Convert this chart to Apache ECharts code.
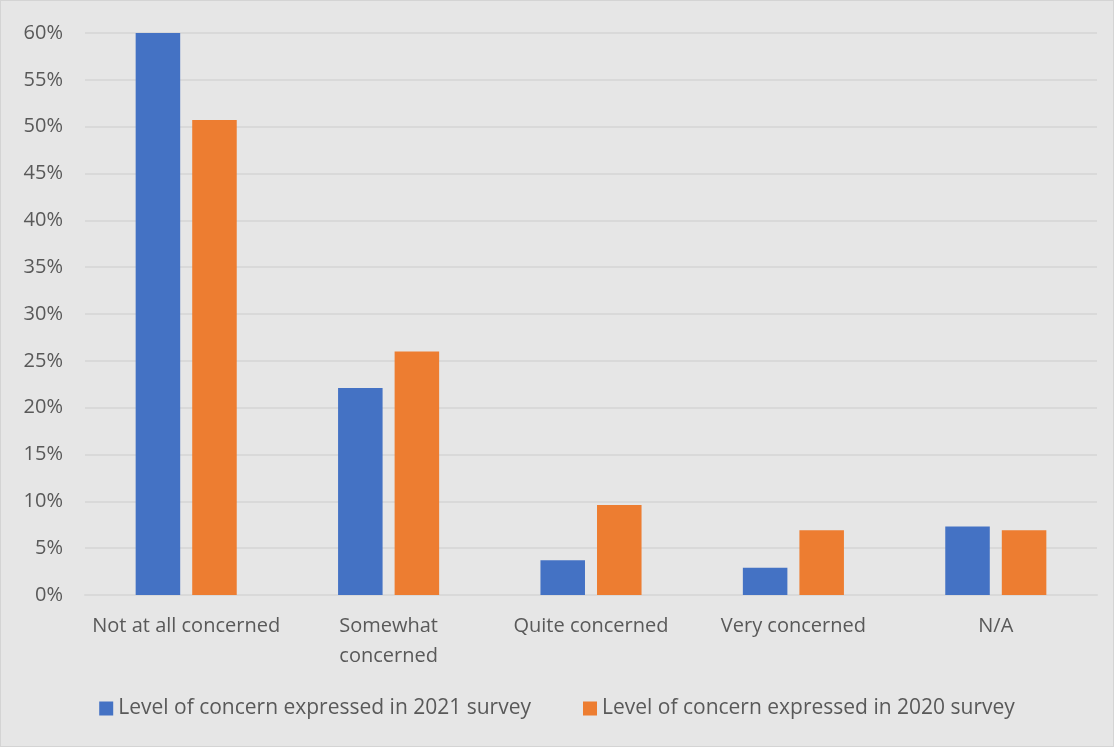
<!DOCTYPE html>
<html>
<head>
<meta charset="utf-8">
<script src="https://cdn.jsdelivr.net/npm/echarts@6/dist/echarts.min.js"></script>
<style>
  html, body { margin: 0; padding: 0; background: #e6e6e6; }
  #chart { width: 1112px; height: 745px; border: 1px solid #d4d4d4; }
</style>
</head>
<body>
<div id="chart"></div>
<script>
let categories = ["Not at all concerned", "Somewhat concerned", "Quite concerned", "Very concerned", "N/A"];
let survey2021 = [60, 22.1, 3.7, 2.9, 7.3];
let survey2020 = [50.7, 26.0, 9.6, 6.9, 6.9];
let seriesNames = ["Level of concern expressed in 2021 survey", "Level of concern expressed in 2020 survey"];

let chart = echarts.init(document.getElementById("chart"));
let txt = "#595959";
let font = "'Open Sans', 'Noto Sans', sans-serif";

chart.setOption({
  backgroundColor: "#e6e6e6",
  textStyle: { fontFamily: font },
  grid: { left: 84, right: 16, top: 32, bottom: 151 },
  legend: {
    bottom: 22,
    left: "center",
    itemWidth: 14,
    itemHeight: 14,
    itemGap: 52,
    icon: "rect",
    textStyle: { color: txt, fontSize: 21, fontFamily: font },
    data: seriesNames
  },
  xAxis: {
    type: "category",
    data: categories,
    axisLine: { lineStyle: { color: "#d9d9d9", width: 2 } },
    axisTick: { show: false },
    axisLabel: {
      color: txt,
      fontSize: 20,
      lineHeight: 30,
      margin: 16,
      interval: 0,
      formatter: (v) => v === "Somewhat concerned" ? "Somewhat\nconcerned" : v
    }
  },
  yAxis: {
    type: "value",
    min: 0,
    max: 60,
    interval: 5,
    axisLine: { show: false },
    axisTick: { show: false },
    splitLine: { lineStyle: { color: "#d9d9d9", width: 2 } },
    axisLabel: { color: txt, fontSize: 20, margin: 22, formatter: "{value}%" }
  },
  series: [
    {
      name: seriesNames[0],
      type: "bar",
      data: survey2021,
      barWidth: "22%",
      barGap: "27%",
      itemStyle: { color: "#4472c4" }
    },
    {
      name: seriesNames[1],
      type: "bar",
      data: survey2020,
      barWidth: "22%",
      itemStyle: { color: "#ed7d31" }
    }
  ]
});
</script>
</body>
</html>
